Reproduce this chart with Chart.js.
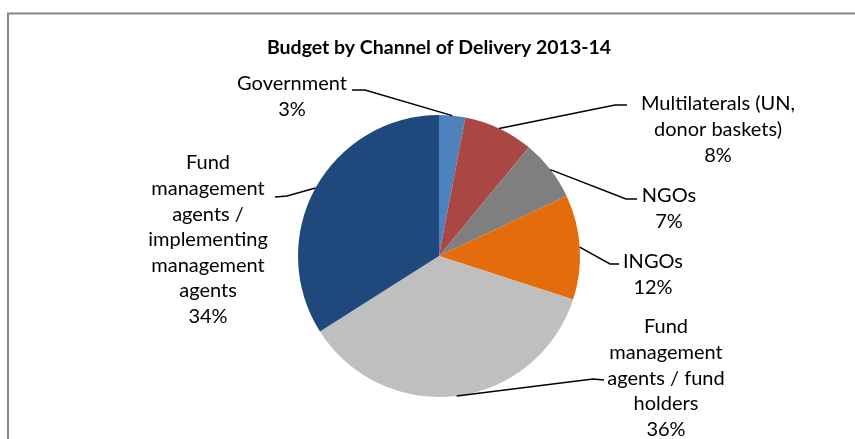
<!DOCTYPE html>
<html>
<head>
<meta charset="utf-8">
<script src="https://cdn.jsdelivr.net/npm/chart.js@4.4.1/dist/chart.umd.min.js"></script>
<style>
  body { margin: 0; background: #fff; }
  #wrap { width: 855px; height: 439px; }
</style>
</head>
<body>
<div id="wrap"><canvas id="budgetPie"></canvas></div>
<script>
const chartTitle = "Budget by Channel of Delivery 2013-14";
const channels = [
  ["Government"],
  ["Multilaterals (UN,", "donor baskets)"],
  ["NGOs"],
  ["INGOs"],
  ["Fund", "management", "agents / fund", "holders"],
  ["Fund", "management", "agents /", "implementing", "management", "agents"],
];
const shares = [3, 8, 7, 12, 36, 34];
const sliceColors = ["#4F81BD", "#AA4643", "#7F7F7F", "#E46C0A", "#BFBFBF", "#1F497D"];

// callout placement: text centre x, first line y, leader elbow and leader end
const callouts = [
  { x: 292, y: 84, elbow: [365, 90], end: [352, 90] },
  { x: 718, y: 104, elbow: [615, 105], end: [627, 105] },
  { x: 669, y: 196, elbow: [626, 199], end: [637, 199] },
  { x: 653, y: 262, elbow: [610, 264], end: [619, 264] },
  { x: 666, y: 327, elbow: [593, 379], end: [604, 380] },
  { x: 208, y: 163, elbow: [287, 196], end: [275, 197] },
];
const lineGap = 25.6;
const labelFont = "20px Lato";

const frameAndCallouts = {
  id: "frameAndCallouts",
  beforeDraw(chart) {
    const ctx = chart.ctx;
    ctx.save();
    ctx.strokeStyle = "#878787";
    ctx.lineWidth = 2;
    ctx.strokeRect(8, 13.5, 900, 500);
    ctx.restore();
  },
  afterDatasetsDraw(chart) {
    const ctx = chart.ctx;
    const arcs = chart.getDatasetMeta(0).data;
    ctx.save();
    arcs.forEach((arc, i) => {
      const c = callouts[i];
      const mid = (arc.startAngle + arc.endAngle) / 2;
      const sx = arc.x + Math.cos(mid) * arc.outerRadius;
      const sy = arc.y + Math.sin(mid) * arc.outerRadius;
      ctx.strokeStyle = "#000";
      ctx.lineWidth = 1.5;
      ctx.beginPath();
      ctx.moveTo(sx, sy);
      ctx.lineTo(c.elbow[0], c.elbow[1]);
      ctx.lineTo(c.end[0], c.end[1]);
      ctx.stroke();

      const lines = channels[i].concat([shares[i] + "%"]);
      ctx.fillStyle = "#000";
      ctx.font = labelFont;
      ctx.textAlign = "center";
      ctx.textBaseline = "middle";
      lines.forEach((t, k) => ctx.fillText(t, c.x, c.y + k * lineGap));
    });
    ctx.restore();
  },
};

new Chart(document.getElementById("budgetPie"), {
  type: "pie",
  data: {
    labels: channels.map((l) => l.join(" ")),
    datasets: [
      {
        data: shares,
        backgroundColor: sliceColors,
        borderWidth: 0,
        hoverOffset: 0,
      },
    ],
  },
  options: {
    responsive: true,
    maintainAspectRatio: false,
    animation: false,
    layout: { padding: { left: 23, right: 0, top: 0, bottom: 42 } },
    plugins: {
      legend: { display: false },
      tooltip: { enabled: false },
      title: {
        display: true,
        text: chartTitle,
        color: "#000",
        font: { family: "Lato", size: 19.5, weight: "bold", lineHeight: 1.2 },
        padding: { top: 36.3, bottom: 55.3 },
      },
    },
  },
  plugins: [frameAndCallouts],
});
</script>
</body>
</html>
